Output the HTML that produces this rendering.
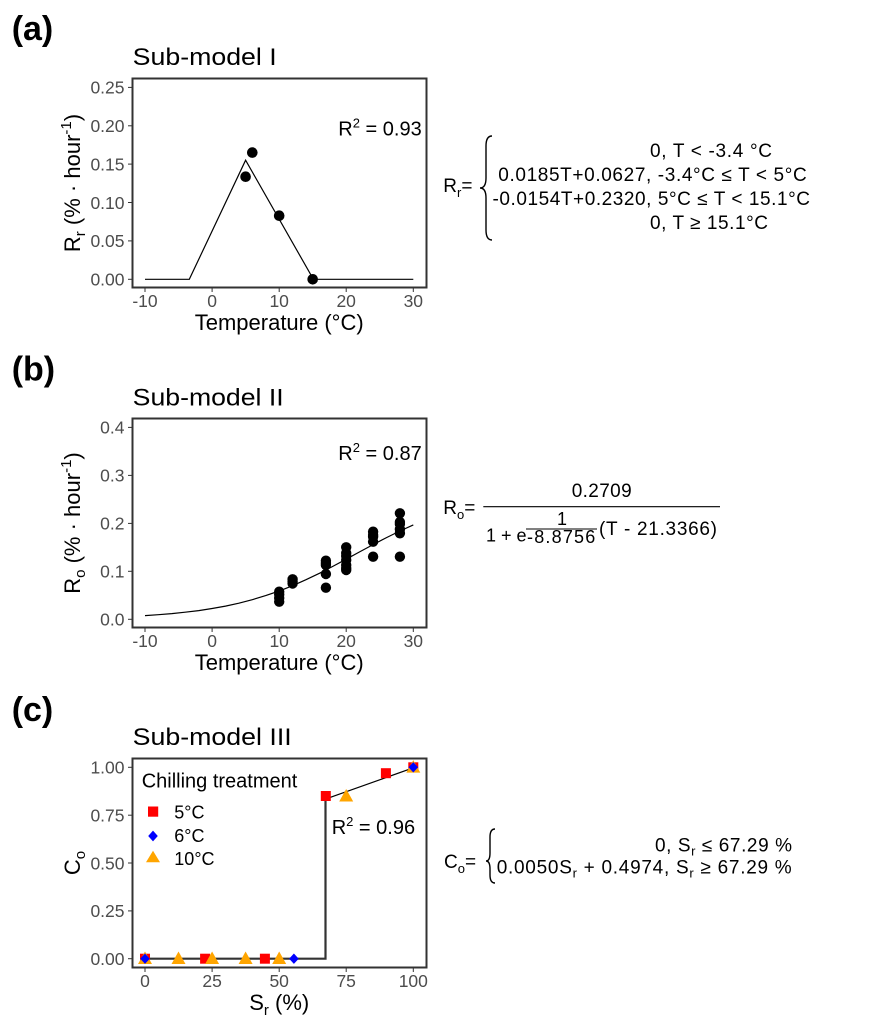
<!DOCTYPE html>
<html><head><meta charset="utf-8"><style>html,body{margin:0;padding:0;background:#fff}svg{display:block}</style></head>
<body>
<svg width="885" height="1032" viewBox="0 0 885 1032" xmlns="http://www.w3.org/2000/svg" font-family="'Liberation Sans', Arial, sans-serif">
<rect width="885" height="1032" fill="#fff"/>

<!-- ===================== PANEL (a) ===================== -->
<text x="11.7" y="40" font-size="34" font-weight="bold">(a)</text>
<text x="132.7" y="65" font-size="24" textLength="144" lengthAdjust="spacingAndGlyphs">Sub-model I</text>

<g stroke="#333" stroke-width="1">
<line x1="128" x2="132.5" y1="279.3" y2="279.3"/><line x1="128" x2="132.5" y1="240.9" y2="240.9"/>
<line x1="128" x2="132.5" y1="202.5" y2="202.5"/><line x1="128" x2="132.5" y1="164.1" y2="164.1"/>
<line x1="128" x2="132.5" y1="125.8" y2="125.8"/><line x1="128" x2="132.5" y1="87.4" y2="87.4"/>
<line x1="145" x2="145" y1="287.5" y2="292"/><line x1="212.1" x2="212.1" y1="287.5" y2="292"/>
<line x1="279.2" x2="279.2" y1="287.5" y2="292"/><line x1="346.2" x2="346.2" y1="287.5" y2="292"/>
<line x1="413.3" x2="413.3" y1="287.5" y2="292"/>
</g>
<g font-size="17.5" fill="#4d4d4d" text-anchor="end">
<text x="124.5" y="285.6">0.00</text><text x="124.5" y="247.2">0.05</text><text x="124.5" y="208.8">0.10</text>
<text x="124.5" y="170.4">0.15</text><text x="124.5" y="132.1">0.20</text><text x="124.5" y="93.7">0.25</text>
</g>
<g font-size="17.5" fill="#4d4d4d" text-anchor="middle">
<text x="145" y="307">-10</text><text x="212.1" y="307">0</text><text x="279.2" y="307">10</text>
<text x="346.2" y="307">20</text><text x="413.3" y="307">30</text>
</g>
<text x="279.2" y="330" font-size="22" text-anchor="middle">Temperature (°C)</text>
<text transform="translate(80,183) rotate(-90)" font-size="22" text-anchor="middle">R<tspan font-size="15" dy="5">r</tspan><tspan dy="-5"> (% · hour</tspan><tspan font-size="15" dy="-9">-1</tspan><tspan dy="9">)</tspan></text>

<polyline points="145,279.3 189.3,279.3 245.6,160.2 313.4,279.3 413.3,279.3" fill="none" stroke="#000" stroke-width="1.2"/>
<g fill="#000">
<circle cx="245.6" cy="176.7" r="5.3"/><circle cx="252.3" cy="152.6" r="5.3"/>
<circle cx="279.2" cy="215.7" r="5.3"/><circle cx="312.7" cy="279.3" r="5.3"/>
</g>
<text x="338.3" y="135.7" font-size="20">R<tspan font-size="13" dy="-8">2</tspan><tspan dy="8"> = 0.93</tspan></text>
<rect x="132.5" y="78.5" width="294" height="209" fill="none" stroke="#333" stroke-width="2"/>

<!-- equation (a) -->
<text x="443.3" y="192" font-size="19">R<tspan font-size="13" dy="5">r</tspan><tspan dy="-5">=</tspan></text>
<path d="M492 136 Q486 136 486 146 L486 178 Q486 188 480 188 Q486 188 486 198 L486 230 Q486 240 492 240" fill="none" stroke="#000" stroke-width="1.4"/>
<g font-size="19">
<text x="650" y="157" textLength="122" lengthAdjust="spacing">0, T &lt; -3.4 °C</text>
<text x="498.3" y="181" textLength="308.4" lengthAdjust="spacing">0.0185T+0.0627, -3.4°C ≤ T &lt; 5°C</text>
<text x="492.5" y="205" textLength="317.5" lengthAdjust="spacing">-0.0154T+0.2320, 5°C ≤ T &lt; 15.1°C</text>
<text x="650" y="229" textLength="118" lengthAdjust="spacing">0, T ≥ 15.1°C</text>
</g>

<!-- ===================== PANEL (b) ===================== -->
<text x="11.7" y="380.5" font-size="34" font-weight="bold">(b)</text>
<text x="132.7" y="405.7" font-size="24" textLength="151" lengthAdjust="spacingAndGlyphs">Sub-model II</text>

<g stroke="#333" stroke-width="1">
<line x1="128" x2="132.5" y1="619.3" y2="619.3"/><line x1="128" x2="132.5" y1="571.3" y2="571.3"/>
<line x1="128" x2="132.5" y1="523.4" y2="523.4"/><line x1="128" x2="132.5" y1="475.4" y2="475.4"/>
<line x1="128" x2="132.5" y1="427.4" y2="427.4"/>
<line x1="145" x2="145" y1="627.5" y2="632"/><line x1="212.1" x2="212.1" y1="627.5" y2="632"/>
<line x1="279.2" x2="279.2" y1="627.5" y2="632"/><line x1="346.2" x2="346.2" y1="627.5" y2="632"/>
<line x1="413.3" x2="413.3" y1="627.5" y2="632"/>
</g>
<g font-size="17.5" fill="#4d4d4d" text-anchor="end">
<text x="124.5" y="625.6">0.0</text><text x="124.5" y="577.6">0.1</text><text x="124.5" y="529.7">0.2</text>
<text x="124.5" y="481.7">0.3</text><text x="124.5" y="433.7">0.4</text>
</g>
<g font-size="17.5" fill="#4d4d4d" text-anchor="middle">
<text x="145" y="647">-10</text><text x="212.1" y="647">0</text><text x="279.2" y="647">10</text>
<text x="346.2" y="647">20</text><text x="413.3" y="647">30</text>
</g>
<text x="279.2" y="670" font-size="22" text-anchor="middle">Temperature (°C)</text>
<text transform="translate(80,523) rotate(-90)" font-size="22" text-anchor="middle">R<tspan font-size="15" dy="5">o</tspan><tspan dy="-5"> (% · hour</tspan><tspan font-size="15" dy="-9">-1</tspan><tspan dy="9">)</tspan></text>

<polyline points="145,615.6 158.4,614.7 171.8,613.6 185.2,612.2 198.7,610.6 212.1,608.5 225.5,606.1 238.9,603.2 252.3,599.7 265.7,595.6 279.2,591 292.6,585.7 306,579.7 319.4,573.3 332.8,566.4 346.2,559.2 359.6,551.9 373.1,544.6 386.5,537.6 399.9,531 413.3,524.9" fill="none" stroke="#000" stroke-width="1.2"/>
<g fill="#000">
<circle cx="279.2" cy="591.7" r="5.2"/><circle cx="279.2" cy="594.5" r="5.2"/><circle cx="279.2" cy="598" r="5.2"/><circle cx="279.2" cy="601.7" r="5.2"/>
<circle cx="292.6" cy="579.3" r="5.2"/><circle cx="292.6" cy="581.5" r="5.2"/><circle cx="292.6" cy="583.5" r="5.2"/>
<circle cx="325.9" cy="560.7" r="5.2"/><circle cx="325.9" cy="563" r="5.2"/><circle cx="325.9" cy="565" r="5.2"/><circle cx="325.9" cy="574" r="5.2"/><circle cx="325.9" cy="587.7" r="5.2"/>
<circle cx="346.2" cy="547.3" r="5.2"/><circle cx="346.2" cy="553" r="5.2"/><circle cx="346.2" cy="556" r="5.2"/><circle cx="346.2" cy="560" r="5.2"/><circle cx="346.2" cy="565" r="5.2"/><circle cx="346.2" cy="568" r="5.2"/><circle cx="346.2" cy="570" r="5.2"/>
<circle cx="373.1" cy="531.7" r="5.2"/><circle cx="373.1" cy="535" r="5.2"/><circle cx="373.1" cy="536.7" r="5.2"/><circle cx="373.1" cy="541.7" r="5.2"/><circle cx="373.1" cy="556.7" r="5.2"/>
<circle cx="399.9" cy="513.3" r="5.2"/><circle cx="399.9" cy="522" r="5.2"/><circle cx="399.9" cy="524" r="5.2"/><circle cx="399.9" cy="529.3" r="5.2"/><circle cx="399.9" cy="533.3" r="5.2"/><circle cx="399.9" cy="556.7" r="5.2"/>
</g>
<text x="338.3" y="460" font-size="20">R<tspan font-size="13" dy="-8">2</tspan><tspan dy="8"> = 0.87</tspan></text>
<rect x="132.5" y="418.5" width="294" height="209" fill="none" stroke="#333" stroke-width="2"/>

<!-- equation (b) -->
<text x="443.3" y="514" font-size="19">R<tspan font-size="13" dy="5">o</tspan><tspan dy="-5">=</tspan></text>
<line x1="483.3" x2="720" y1="506.7" y2="506.7" stroke="#000" stroke-width="1.2"/>
<text x="571.7" y="497" font-size="19" textLength="60" lengthAdjust="spacing">0.2709</text>
<text x="486" y="541.5" font-size="18">1 + e</text>
<text x="557" y="525" font-size="18">1</text>
<line x1="526" x2="597" y1="529" y2="529" stroke="#000" stroke-width="1"/>
<text x="527" y="543" font-size="18" letter-spacing="1.2">-8.8756</text>
<text x="599" y="535" font-size="19" textLength="118" lengthAdjust="spacing">(T - 21.3366)</text>

<!-- ===================== PANEL (c) ===================== -->
<text x="11.7" y="721" font-size="34" font-weight="bold">(c)</text>
<text x="132.7" y="745" font-size="24" textLength="159" lengthAdjust="spacingAndGlyphs">Sub-model III</text>

<g stroke="#333" stroke-width="1">
<line x1="128" x2="132.5" y1="958.7" y2="958.7"/><line x1="128" x2="132.5" y1="910.9" y2="910.9"/>
<line x1="128" x2="132.5" y1="863" y2="863"/><line x1="128" x2="132.5" y1="815.2" y2="815.2"/>
<line x1="128" x2="132.5" y1="767.3" y2="767.3"/>
<line x1="145" x2="145" y1="967.5" y2="972"/><line x1="212.1" x2="212.1" y1="967.5" y2="972"/>
<line x1="279.2" x2="279.2" y1="967.5" y2="972"/><line x1="346.2" x2="346.2" y1="967.5" y2="972"/>
<line x1="413.3" x2="413.3" y1="967.5" y2="972"/>
</g>
<g font-size="17.5" fill="#4d4d4d" text-anchor="end">
<text x="124.5" y="965">0.00</text><text x="124.5" y="917.2">0.25</text><text x="124.5" y="869.3">0.50</text>
<text x="124.5" y="821.5">0.75</text><text x="124.5" y="773.6">1.00</text>
</g>
<g font-size="17.5" fill="#4d4d4d" text-anchor="middle">
<text x="145" y="987">0</text><text x="212.1" y="987">25</text><text x="279.2" y="987">50</text>
<text x="346.2" y="987">75</text><text x="413.3" y="987">100</text>
</g>
<text x="279.2" y="1010" font-size="22" text-anchor="middle">S<tspan font-size="15" dy="5">r</tspan><tspan dy="-5"> (%)</tspan></text>
<text transform="translate(80,863) rotate(-90)" font-size="22" text-anchor="middle">C<tspan font-size="15" dy="5">o</tspan></text>

<polyline points="145,958.7 325.5,958.7 325.5,799.1" fill="none" stroke="#333" stroke-width="2.2"/>
<line x1="325.5" y1="799.1" x2="413.3" y2="767.8" stroke="#000" stroke-width="1.2"/>

<!-- red squares 5°C -->
<g fill="#ff0000">
<rect x="140" y="953.7" width="10" height="10"/><rect x="200.1" y="953.7" width="10" height="10"/>
<rect x="259.9" y="953.7" width="10" height="10"/><rect x="320.8" y="791" width="10" height="10"/>
<rect x="380.9" y="768.2" width="10" height="10"/><rect x="408.3" y="762.3" width="10" height="10"/>
</g>
<!-- orange triangles 10°C -->
<g fill="#ffa500">
<polygon points="138,964 152,964 145,951.5"/>
<polygon points="171.5,964 185.5,964 178.5,951.5"/>
<polygon points="205.1,964 219.1,964 212.1,951.5"/>
<polygon points="238.6,964 252.6,964 245.6,951.5"/>
<polygon points="272.2,964 286.2,964 279.2,951.5"/>
<polygon points="339.2,801.5 353.2,801.5 346.2,789"/>
<polygon points="406.3,772.6 420.3,772.6 413.3,760.1"/>
</g>
<!-- blue diamonds 6°C -->
<g fill="#0000ff">
<polygon points="145,953.5 149.8,958.7 145,963.9 140.2,958.7"/>
<polygon points="293.9,953.5 298.7,958.7 293.9,963.9 289.1,958.7"/>
<polygon points="413.3,762.1 418.1,767.3 413.3,772.5 408.5,767.3"/>
</g>

<!-- legend -->
<text x="141.7" y="787.3" font-size="20">Chilling treatment</text>
<rect x="148" y="806.5" width="10.2" height="10.2" fill="#ff0000"/>
<polygon points="153,830.6 157.8,836 153,841.4 148.2,836" fill="#0000ff"/>
<polygon points="146,862.3 160,862.3 153,850.8" fill="#ffa500"/>
<g font-size="18">
<text x="174.3" y="818.5">5°C</text><text x="174.3" y="841.8">6°C</text><text x="174.3" y="865.2">10°C</text>
</g>
<text x="331.7" y="834" font-size="20">R<tspan font-size="13" dy="-8">2</tspan><tspan dy="8"> = 0.96</tspan></text>
<rect x="132.5" y="758.5" width="294" height="209" fill="none" stroke="#333" stroke-width="2"/>

<!-- equation (c) -->
<text x="444" y="868" font-size="19">C<tspan font-size="13" dy="5">o</tspan><tspan dy="-5">=</tspan></text>
<path d="M495 829 Q490 829 490 837 L490 853 Q490 861 486 861 Q490 861 490 869 L490 875 Q490 883 495 883" fill="none" stroke="#000" stroke-width="1.4"/>
<text x="655" y="851.5" font-size="19" textLength="137" lengthAdjust="spacing">0, S<tspan font-size="13" dy="4">r</tspan><tspan dy="-4"> ≤ 67.29 %</tspan></text>
<text x="496.7" y="873.5" font-size="19" textLength="295" lengthAdjust="spacing">0.0050S<tspan font-size="13" dy="4">r</tspan><tspan dy="-4"> + 0.4974, S</tspan><tspan font-size="13" dy="4">r</tspan><tspan dy="-4"> ≥ 67.29 %</tspan></text>
</svg>
</body></html>
